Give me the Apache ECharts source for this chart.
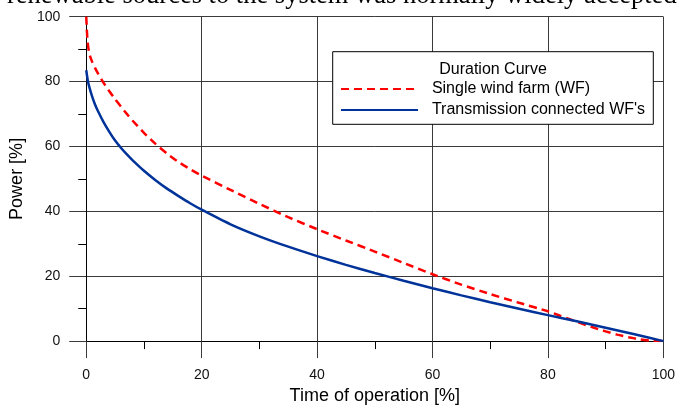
<!DOCTYPE html>
<html>
<head>
<meta charset="utf-8">
<script src="https://cdn.jsdelivr.net/npm/echarts@6/dist/echarts.min.js"></script>
<style>
html,body{margin:0;padding:0;background:#fff;}
#c{width:678px;height:410px;}
</style>
</head>
<body>
<div id="c"></div>
<script>
// Data
var singleX = [0, 0.1, 0.2, 0.35, 0.5, 0.7, 1, 1.5, 2, 3, 4, 5, 6, 7, 8, 10, 12, 14, 16, 18, 20, 25, 30, 35, 40, 45, 50, 55, 60, 65, 70, 75, 80, 82, 84, 86, 88, 90, 92, 94, 96, 98, 100];
var singleY = [100, 96, 93, 90.5, 89, 87.6, 86.2, 84.3, 82.6, 79.6, 77, 74.6, 72.3, 70.1, 68, 64.2, 60.8, 57.8, 55.2, 53, 51, 46.6, 42.3, 38.2, 34.5, 31, 27.6, 24.1, 20.6, 17.4, 14.5, 11.8, 9.2, 7.9, 6.6, 5.3, 4.1, 3, 2, 1.2, 0.5, 0.1, 0];
var transX = [0, 0.25, 0.5, 1, 1.5, 2, 3, 4, 5, 6, 7, 8, 10, 12, 14, 16, 18, 20, 25, 30, 35, 40, 45, 50, 55, 60, 65, 70, 75, 80, 85, 90, 95, 100];
var transY = [83.5, 80.5, 78.5, 75.5, 73, 71, 67.5, 64.5, 61.8, 59.6, 57.6, 55.8, 52.5, 49.6, 47, 44.7, 42.5, 40.5, 36, 32.3, 29.1, 26.2, 23.5, 21, 18.6, 16.3, 14.1, 12, 10, 8, 6.1, 4.1, 2.1, 0];
var legendTitle = 'Duration Curve';
var seriesNames = ['Single wind farm (WF)', "Transmission connected WF's"];
var xName = 'Time of operation [%]';
var yName = 'Power [%]';
var pageText = 'renewable sources to the system was normally widely accepted';

function pairs(xs, ys) {
  var out = [];
  for (var i = 0; i < xs.length; i++) out.push([xs[i], ys[i]]);
  return out;
}

var chart = echarts.init(document.getElementById('c'), null, {renderer: 'canvas'});
var font = 'Liberation Sans, Arial, sans-serif';
var gridColor = '#3a3a3a';
chart.setOption({
  animation: false,
  backgroundColor: '#fff',
  textStyle: {fontFamily: font},
  grid: {left: 83.33, right: 11.33, top: 16.67, bottom: 60, containLabel: false},
  xAxis: {
    type: 'value', min: 0, max: 100, interval: 20,
    name: xName, nameLocation: 'middle', nameGap: 41,
    nameTextStyle: {fontSize: 18, color: '#000', fontFamily: font},
    axisLine: {show: true, lineStyle: {color: '#000', width: 1}},
    axisTick: {show: true, inside: false, length: 17, lineStyle: {color: gridColor, width: 1}},
    minorTick: {show: true, splitNumber: 2, length: 8, lineStyle: {color: '#000', width: 1}},
    axisLabel: {fontSize: 14, color: '#111', margin: 27, fontFamily: font},
    splitLine: {show: true, lineStyle: {color: gridColor, width: 1}}
  },
  yAxis: {
    type: 'value', min: 0, max: 100, interval: 20,
    name: yName, nameLocation: 'middle', nameGap: 52,
    nameTextStyle: {fontSize: 18, color: '#000', fontFamily: font},
    axisLine: {show: true, lineStyle: {color: '#000', width: 1}},
    axisTick: {show: true, inside: false, length: 17, lineStyle: {color: gridColor, width: 1}},
    minorTick: {show: true, splitNumber: 2, length: 8, lineStyle: {color: '#000', width: 1}},
    axisLabel: {fontSize: 14, color: '#111', margin: 26, fontFamily: font},
    splitLine: {show: true, lineStyle: {color: gridColor, width: 1}}
  },
  legend: {
    show: true, orient: 'vertical', left: 340, top: 81, padding: 0,
    itemWidth: 77, itemHeight: 14, itemGap: 5,
    formatter: '  {name}',
    itemStyle: {opacity: 0},
    textStyle: {fontSize: 16, color: '#000', fontFamily: font},
    data: seriesNames
  },
  graphic: [
    {type: 'rect', z: 3, shape: {x: 332.7, y: 51.7, width: 320.6, height: 72.6},
     style: {fill: '#fff', stroke: '#000', lineWidth: 1}},
    {type: 'text', z: 5, x: 493, y: 70,
     style: {text: legendTitle, fill: '#000', font: '16px ' + font, align: 'center', verticalAlign: 'middle'}},
    {type: 'text', z: 5, x: 7, y: -4,
     style: {text: pageText, fill: '#000', font: '26.5px Liberation Serif, serif', align: 'left', verticalAlign: 'middle'}}
  ],
  series: [
    {
      name: seriesNames[0], type: 'line', data: pairs(singleX, singleY),
      showSymbol: false, symbol: 'none', smooth: 0.2,
      lineStyle: {color: '#ff0000', width: 2.5, type: [8, 5]},
      itemStyle: {color: '#ff0000'}
    },
    {
      name: seriesNames[1], type: 'line', data: pairs(transX, transY),
      showSymbol: false, symbol: 'none', smooth: 0.2,
      lineStyle: {color: '#003399', width: 2.5},
      itemStyle: {color: '#003399'}
    }
  ]
});
</script>
</body>
</html>
